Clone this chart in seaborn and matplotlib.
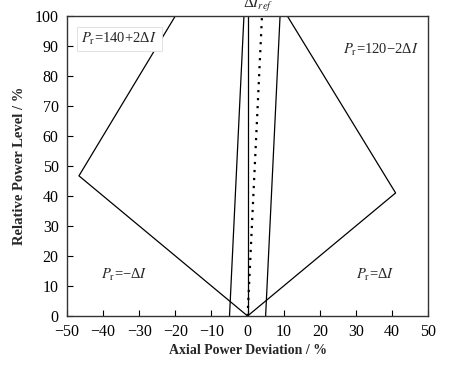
import numpy as np
import pandas as pd
import matplotlib.pyplot as plt
import seaborn as sns

# envelope: Pr = -dI (left) -> Pr = 140 + 2dI, Pr = dI (right) -> Pr = 120 - 2dI
left_x = [0, -46.7, -20]
left_y = [0, 46.7, 100]
right_x = [0, 41, 11]
right_y = [0, 41, 100]
# operating band around the reference line
band_lo_x = [-5, -1]
band_hi_x = [5, 9]
center_x = [0, 0]
ref_x = [0, 4]
band_y = [0, 100]
xticks = list(range(-50, 51, 10))
yticks = list(range(0, 101, 10))

sns.set_style('ticks')
plt.rcParams['font.family'] = ['Liberation Serif', 'DejaVu Serif']
plt.rcParams['mathtext.fontset'] = 'stix'

fig = plt.figure(figsize=(4.53, 3.70), dpi=100)
ax = fig.add_axes([0.148, 0.146, 0.797, 0.811])

def draw(x, y, **kw):
    d = pd.DataFrame({'x': x, 'y': y})
    sns.lineplot(data=d, x='x', y='y', sort=False, estimator=None, ax=ax, **kw)

draw(left_x, left_y, color='black', lw=0.9)
draw(right_x, right_y, color='black', lw=0.9)
draw(band_lo_x, band_y, color='black', lw=0.9)
draw(band_hi_x, band_y, color='black', lw=0.9)
draw(center_x, band_y, color='black', lw=0.9)
draw(ref_x, band_y, color='black', lw=1.6, linestyle=(0, (1, 2.6)))

ax.set_xlim(-50, 50)
ax.set_ylim(0, 100)
ax.set_xticks(xticks)
ax.set_yticks(yticks)
ax.set_xticklabels([f'\u2212{abs(v)}' if v < 0 else str(v) for v in xticks])
ax.tick_params(direction='in', labelsize=11.5, length=4, width=0.8, colors='black')
ax.tick_params(axis='y', pad=6)
ax.tick_params(axis='x', pad=5.5)
for s in ax.spines.values():
    s.set_linewidth(1.0)
    s.set_color('#333333')

ax.set_xlabel('Axial Power Deviation / %', fontsize=10, fontweight='bold', labelpad=3)
ax.set_ylabel('Relative Power Level / %', fontsize=10.5, fontweight='bold', labelpad=6)

box = dict(boxstyle='square,pad=0.3', fc='white', ec='#dddddd', lw=0.6)
ax.text(-46, 92.3, r'$P_{\rm r}$=140+2Δ$I$', fontsize=10.5, va='center', ha='left', bbox=box)
ax.text(26.5, 88.7, r'$P_{\rm r}$=120−2Δ$I$', fontsize=10.5, va='center', ha='left')
ax.text(-40.5, 13.7, r'$P_{\rm r}$=−Δ$I$', fontsize=10.5, va='center', ha='left')
ax.text(30, 13.7, r'$P_{\rm r}$=Δ$I$', fontsize=10.5, va='center', ha='left')
ax.text(3, 102.8, r'Δ$I_{ref}$', fontsize=11, va='baseline', ha='center', clip_on=False)

fig.savefig('out.png', dpi=100)
